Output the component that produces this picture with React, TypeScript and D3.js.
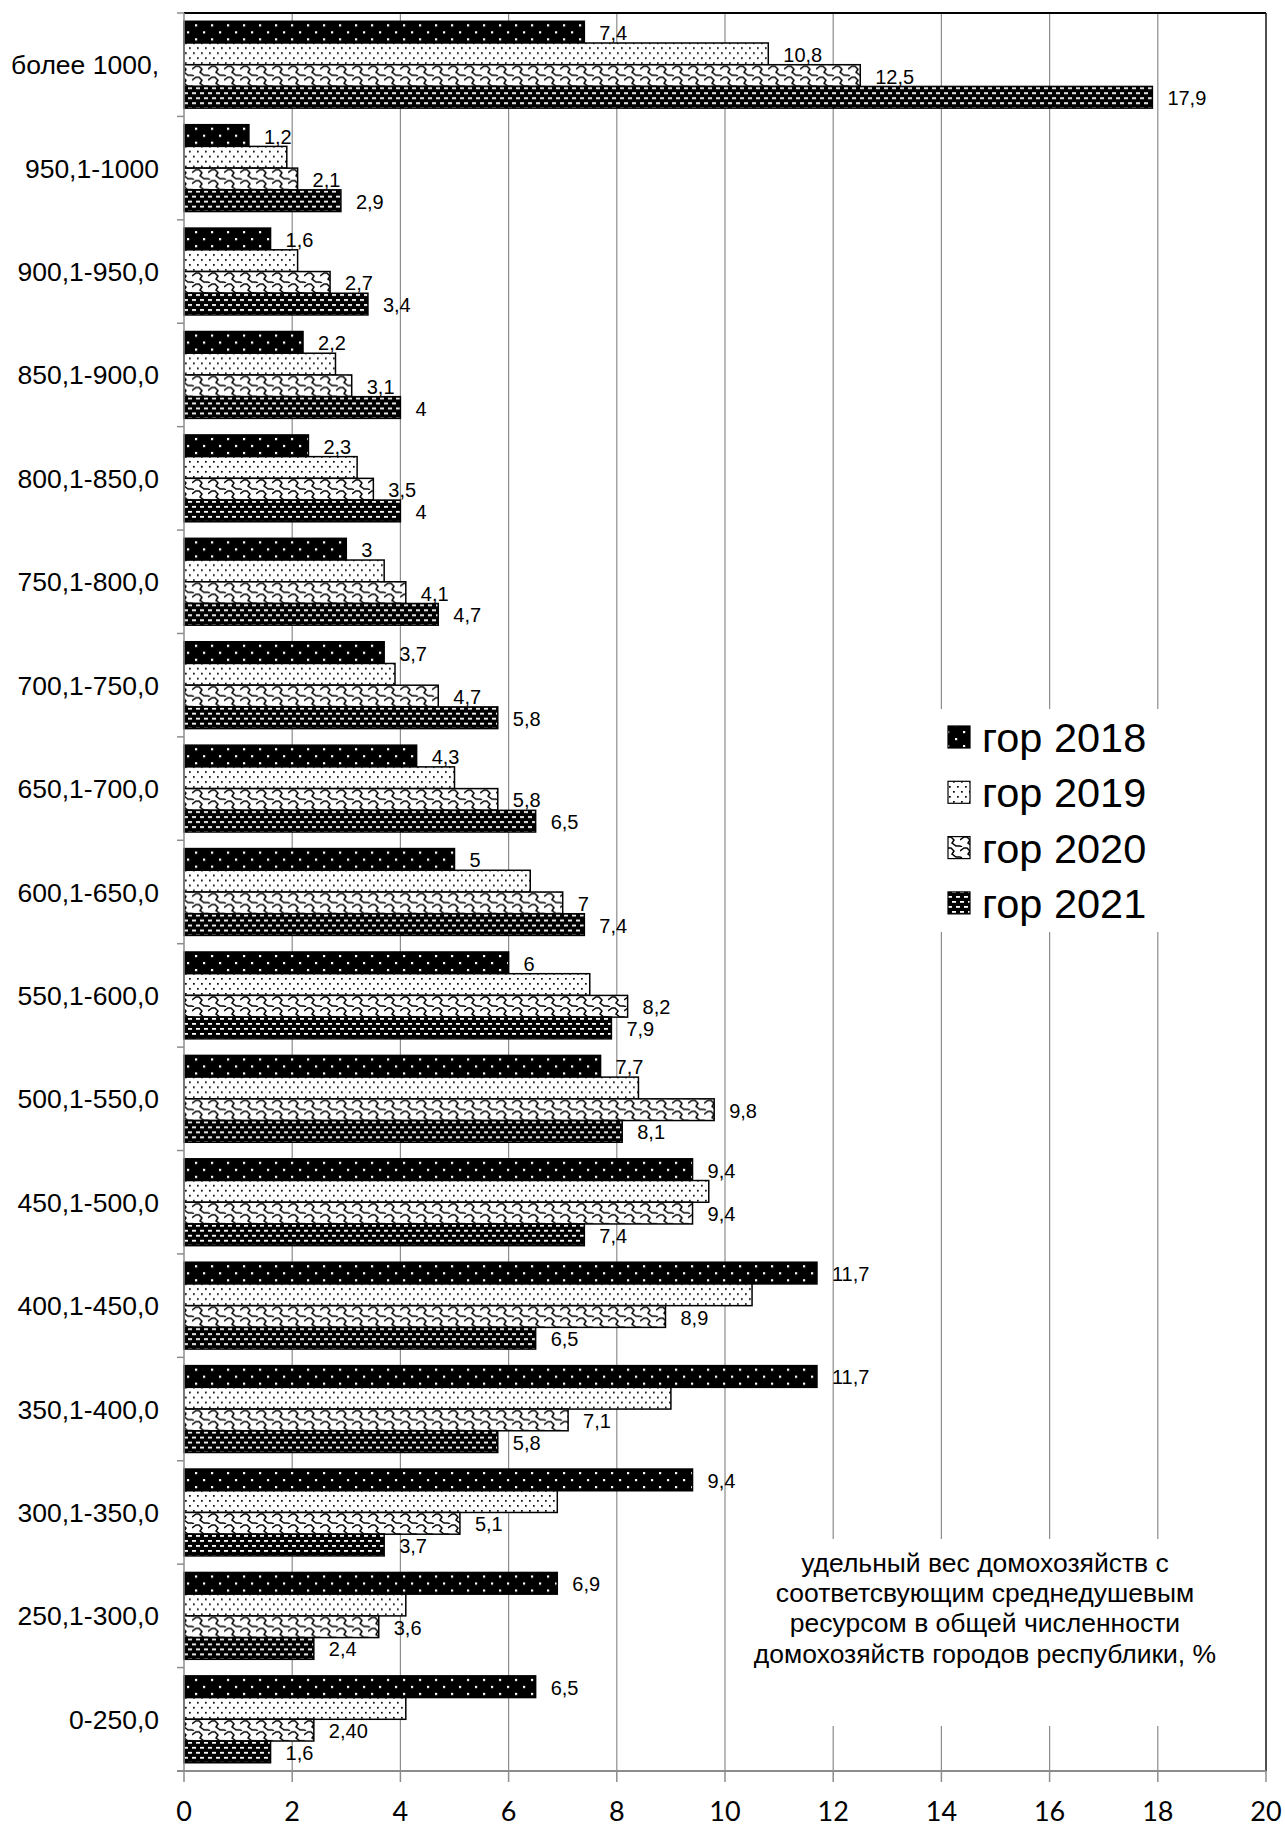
import React from "react";
import * as d3 from "d3";

const categories = [
  "более 1000,",
  "950,1-1000",
  "900,1-950,0",
  "850,1-900,0",
  "800,1-850,0",
  "750,1-800,0",
  "700,1-750,0",
  "650,1-700,0",
  "600,1-650,0",
  "550,1-600,0",
  "500,1-550,0",
  "450,1-500,0",
  "400,1-450,0",
  "350,1-400,0",
  "300,1-350,0",
  "250,1-300,0",
  "0-250,0",
];

const seriesNames = ["гор 2018", "гор 2019", "гор 2020", "гор 2021"];

const values2018 = [7.4, 1.2, 1.6, 2.2, 2.3, 3, 3.7, 4.3, 5, 6, 7.7, 9.4, 11.7, 11.7, 9.4, 6.9, 6.5];
const values2019 = [10.8, 1.9, 2.1, 2.8, 3.2, 3.7, 3.9, 5.0, 6.4, 7.5, 8.4, 9.7, 10.5, 9.0, 6.9, 4.1, 4.1];
const values2020 = [12.5, 2.1, 2.7, 3.1, 3.5, 4.1, 4.7, 5.8, 7, 8.2, 9.8, 9.4, 8.9, 7.1, 5.1, 3.6, 2.4];
const values2021 = [17.9, 2.9, 3.4, 4, 4, 4.7, 5.8, 6.5, 7.4, 7.9, 8.1, 7.4, 6.5, 5.8, 3.7, 2.4, 1.6];

// 2019 values are labelled only for this category
const labelled2019 = ["более 1000,"];
// label text that differs from plain formatting
const labelTextOverrides = [{ series: "гор 2020", category: "0-250,0", text: "2,40" }];

const xTicks = [0, 2, 4, 6, 8, 10, 12, 14, 16, 18, 20];

const noteLines = [
  "удельный вес домохозяйств с",
  "соответсвующим среднедушевым",
  "ресурсом в общей численности",
  "домохозяйств городов республики, %",
];

const W = 1285;
const H = 1829;
const M = { left: 184, right: 1266, top: 13, bottom: 1771 };
const ARIAL = "'Liberation Sans', Arial, sans-serif";

const seriesValues = [values2018, values2019, values2020, values2021];
const patternIds = ["p2018", "p2019", "p2020", "p2021"];

const fmt = (v: number) => String(v).replace(".", ",");

function Patterns() {
  return (
    <defs>
      <pattern id="p2018" patternUnits="userSpaceOnUse" width={16} height={14}>
        <rect width={16} height={14} fill="#000" />
        <rect x={3} y={3} width={2.2} height={2.2} fill="#fff" />
        <rect x={11} y={10} width={2.2} height={2.2} fill="#fff" />
      </pattern>
      <pattern id="p2019" patternUnits="userSpaceOnUse" width={8} height={10}>
        <rect width={8} height={10} fill="#fff" />
        <rect x={1} y={1} width={1.7} height={1.7} fill="#000" />
        <rect x={5} y={6} width={1.7} height={1.7} fill="#000" />
      </pattern>
      <pattern id="p2020" patternUnits="userSpaceOnUse" width={16} height={11}>
        <rect width={16} height={11} fill="#fff" />
        <path
          d="M0,4 L4,1 L7,1 L10,4 L8,7 L12,10 L16,10 M0,10 L2,11"
          fill="none"
          stroke="#000"
          strokeWidth={1.5}
        />
      </pattern>
      <pattern id="p2021" patternUnits="userSpaceOnUse" width={8} height={10}>
        <rect width={8} height={10} fill="#000" />
        <rect x={0} y={1} width={4} height={1.8} fill="#fff" />
        <rect x={4} y={6} width={4} height={1.8} fill="#fff" />
      </pattern>
    </defs>
  );
}

export default function App() {
  const x = d3.scaleLinear().domain([0, 20]).range([M.left, M.right]);
  const y = d3
    .scaleBand<string>()
    .domain(categories)
    .range([M.top, M.bottom])
    .paddingInner(0.16)
    .paddingOuter(0.08);
  const ySub = d3.scaleBand<string>().domain(seriesNames).range([0, y.bandwidth()]);
  const step = y.step();

  const boundaries = d3.range(categories.length + 1).map((i) => M.top + i * step);

  const labelFor = (si: number, ci: number) => {
    const s = seriesNames[si];
    const c = categories[ci];
    if (s === "гор 2019" && !labelled2019.includes(c)) return null;
    const o = labelTextOverrides.find((d) => d.series === s && d.category === c);
    return o ? o.text : fmt(seriesValues[si][ci]);
  };

  return (
    <svg
      width={W}
      height={H}
      style={{ position: "absolute", left: 0, top: 0, display: "block", background: "#fff" }}
    >
      <Patterns />
      <rect width={W} height={H} fill="#fff" />

      {/* gridlines */}
      {xTicks.slice(1, -1).map((t) => (
        <line key={"g" + t} x1={x(t)} x2={x(t)} y1={M.top} y2={M.bottom} stroke="#8c8c8c" strokeWidth={1.2} />
      ))}

      {/* plot border top / right */}
      <line x1={M.left} x2={M.right} y1={M.top} y2={M.top} stroke="#000" strokeWidth={2.2} />
      <line x1={M.right} x2={M.right} y1={M.top} y2={M.bottom} stroke="#222" strokeWidth={1.6} />

      {/* white boxes behind legend and note */}
      <rect x={935} y={709} width={265} height={223} fill="#fff" />
      <rect x={735} y={1539} width={500} height={187} fill="#fff" />

      {/* bars */}
      {categories.map((c, ci) => (
        <g key={c} transform={`translate(0,${y(c)})`}>
          {seriesNames.map((s, si) => (
            <rect
              key={s}
              x={x(0)}
              y={ySub(s)}
              width={x(seriesValues[si][ci]) - x(0)}
              height={ySub.bandwidth()}
              fill={`url(#${patternIds[si]})`}
              stroke="#000"
              strokeWidth={1.5}
            />
          ))}
        </g>
      ))}

      {/* data labels */}
      {categories.map((c, ci) =>
        seriesNames.map((s, si) => {
          const t = labelFor(si, ci);
          if (t === null) return null;
          const cy = (y(c) as number) + (ySub(s) as number) + ySub.bandwidth() / 2;
          return (
            <text
              key={c + s}
              x={x(seriesValues[si][ci]) + 15}
              y={cy + 8}
              fontFamily={ARIAL}
              fontSize={20}
              fill="#000"
            >
              {t}
            </text>
          );
        })
      )}

      {/* left axis */}
      <line x1={M.left} x2={M.left} y1={M.top} y2={M.bottom} stroke="#8c8c8c" strokeWidth={1.5} />
      {boundaries.map((b, i) => (
        <line key={"yt" + i} x1={M.left - 7} x2={M.left} y1={b} y2={b} stroke="#8c8c8c" strokeWidth={1.5} />
      ))}
      {categories.map((c) => (
        <text
          key={"cl" + c}
          x={159}
          y={(y(c) as number) + y.bandwidth() / 2 + 9.5}
          textAnchor="end"
          fontFamily={ARIAL}
          fontSize={26.5}
          fill="#000"
        >
          {c}
        </text>
      ))}

      {/* bottom axis */}
      <line x1={M.left - 7} x2={M.right} y1={M.bottom} y2={M.bottom} stroke="#8c8c8c" strokeWidth={1.8} />
      {xTicks.map((t) => (
        <g key={"xt" + t}>
          <line x1={x(t)} x2={x(t)} y1={M.bottom} y2={M.bottom + 11} stroke="#8c8c8c" strokeWidth={1.5} />
          <text
            x={x(t)}
            y={1821}
            textAnchor="middle"
            fontFamily="Lato, 'Open Sans', sans-serif"
            fontSize={27}
            fill="#000"
          >
            {t}
          </text>
        </g>
      ))}

      {/* legend */}
      {seriesNames.map((s, si) => {
        const cy = 737 + si * 55.3;
        return (
          <g key={"lg" + s}>
            <rect x={948} y={cy - 11} width={22} height={22} fill={`url(#${patternIds[si]})`} stroke="#000" strokeWidth={1.2} />
            <text x={982} y={cy + 15} fontFamily={ARIAL} fontSize={41.5} fill="#000">
              {s}
            </text>
          </g>
        );
      })}

      {/* note */}
      {noteLines.map((l, i) => (
        <text
          key={"n" + i}
          x={985}
          y={1572 + i * 30.2}
          textAnchor="middle"
          fontFamily={ARIAL}
          fontSize={26.5}
          fill="#000"
        >
          {l}
        </text>
      ))}
    </svg>
  );
}
